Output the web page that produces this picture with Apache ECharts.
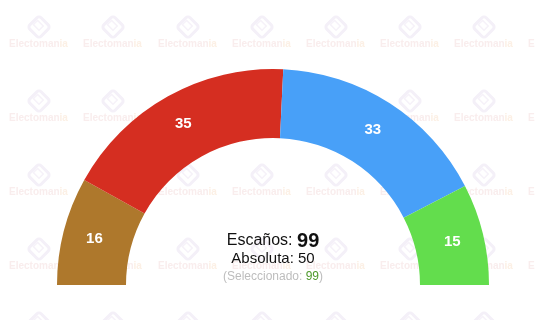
<!DOCTYPE html>
<html>
<head>
<meta charset="utf-8">
<script src="https://cdn.jsdelivr.net/npm/echarts@6/dist/echarts.min.js"></script>
<style>
html,body{margin:0;padding:0;background:#fff;}
#chart{width:535px;height:320px;}
</style>
</head>
<body>
<div id="chart"></div>
<script>
// Data
var parties = ['Partido A', 'Partido B', 'Partido C', 'Partido D'];
var seats = [16, 35, 33, 15];
var colors = ['#ae782c', '#d52e21', '#48a0f8', '#63dd4d'];
var totalSeats = 99;
var majority = 50;
var selected = 99;
var watermarkWord = ['Electoman', 'ia'];

var chart = echarts.init(document.getElementById('chart'), null, {renderer: 'canvas'});

// watermark grid
var graphics = [];
var cols = [39, 113, 188, 262, 336, 410, 484, 558];
var rowsY = [-30, 44, 118, 192, 266, 340];
cols.forEach(function (cx) {
  rowsY.forEach(function (ty) {
    graphics.push({
      type: 'text', z: -10, left: cx - 30, top: ty - 5, silent: true,
      style: {
        text: '{a|' + watermarkWord[0] + '}{b|' + watermarkWord[1] + '}',
        rich: {
          a: {fill: '#f9eded', fontSize: 10, fontWeight: 'bold', fontFamily: 'Liberation Sans, Arial'},
          b: {fill: '#fcf0e5', fontSize: 10, fontWeight: 'bold', fontFamily: 'Liberation Sans, Arial'}
        }
      }
    });
    graphics.push({
      type: 'rect', z: -10, silent: true,
      x: cx, y: ty - 17, rotation: Math.PI / 4,
      shape: {x: -8, y: -8, width: 16, height: 16, r: 3},
      style: {fill: 'none', stroke: '#f4f0f8', lineWidth: 3}
    });
    graphics.push({
      type: 'rect', z: -10, silent: true,
      x: cx, y: ty - 18, rotation: Math.PI / 4,
      shape: {x: -3, y: -5, width: 6, height: 8},
      style: {fill: 'none', stroke: '#f6f2f9', lineWidth: 1.5}
    });
  });
});

var center = [273, 285];
graphics.push({
  type: 'text', z: 10, x: center[0], y: 241,
  style: {
    text: '{n|Escaños: }{b|' + totalSeats + '}',
    align: 'center', verticalAlign: 'middle',
    rich: {
      n: {fontSize: 16, fill: '#111', fontFamily: 'Liberation Sans, Arial'},
      b: {fontSize: 20, fontWeight: 'bold', fill: '#111', fontFamily: 'Liberation Sans, Arial'}
    }
  }
});
graphics.push({
  type: 'text', z: 10, x: center[0], y: 259,
  style: {
    text: 'Absoluta: ' + majority,
    align: 'center', verticalAlign: 'middle',
    fontSize: 15, fill: '#111', fontFamily: 'Liberation Sans, Arial'
  }
});
graphics.push({
  type: 'text', z: 10, x: center[0], y: 277,
  style: {
    text: '{g|(Seleccionado: }{s|' + selected + '}{g|)}',
    align: 'center', verticalAlign: 'middle',
    rich: {
      g: {fontSize: 12, fill: '#bdbdbd', fontFamily: 'Liberation Sans, Arial'},
      s: {fontSize: 12, fill: '#4e9a2c', fontFamily: 'Liberation Sans, Arial'}
    }
  }
});

chart.setOption({
  animation: false,
  backgroundColor: '#fff',
  graphic: graphics,
  series: [{
    type: 'pie',
    center: center,
    radius: [147, 216],
    startAngle: 180,
    endAngle: 0,
    clockwise: true,
    silent: true,
    label: {
      show: true, position: 'inside', formatter: '{c}',
      color: '#fff', fontSize: 15, fontWeight: 'bold', fontFamily: 'Liberation Sans, Arial'
    },
    labelLine: {show: false},
    itemStyle: {borderWidth: 0},
    data: parties.map(function (p, i) {
      return {name: p, value: seats[i], itemStyle: {color: colors[i]}};
    })
  }]
});
</script>
</body>
</html>
